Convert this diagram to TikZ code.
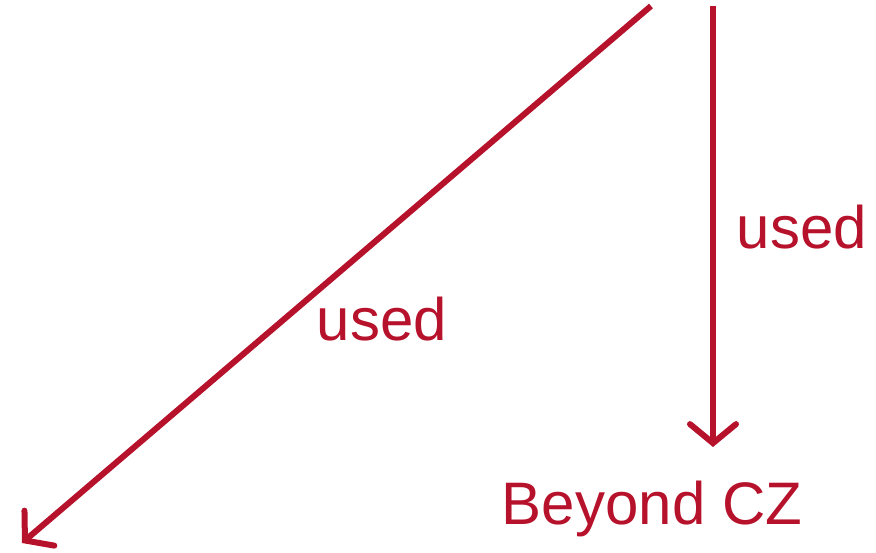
\documentclass[tikz,border=0pt]{standalone}
\usepackage{fontspec}
\setmainfont{Liberation Sans}
\usetikzlibrary{arrows.meta}
\definecolor{cz}{RGB}{183,18,43}
\tikzset{
  link/.style={draw=cz, line width=6pt, -{Straight Barb[length=19pt, width=46pt, line width=6pt, line cap=round]}},
  lbl/.style={text=cz, font=\fontsize{60}{60}\selectfont, inner sep=0pt}
}
\begin{document}
\begin{tikzpicture}[x=1pt,y=-1pt]
\useasboundingbox (0,0) rectangle (876,552);
\coordinate (s1) at (651,6);
\coordinate (e1) at (22,543);
\coordinate (s2) at (713,6);
\coordinate (e2) at (713,447);
\draw[link] (s1) -- (e1);
\draw[link] (s2) -- (e2);
\node[lbl, anchor=base] (u1) at (382,340) {used};
\node[lbl, anchor=base] (u2) at (802,248) {used};
\node[lbl, anchor=base] (bz) at (652,524) {Beyond CZ};
\end{tikzpicture}
\end{document}
